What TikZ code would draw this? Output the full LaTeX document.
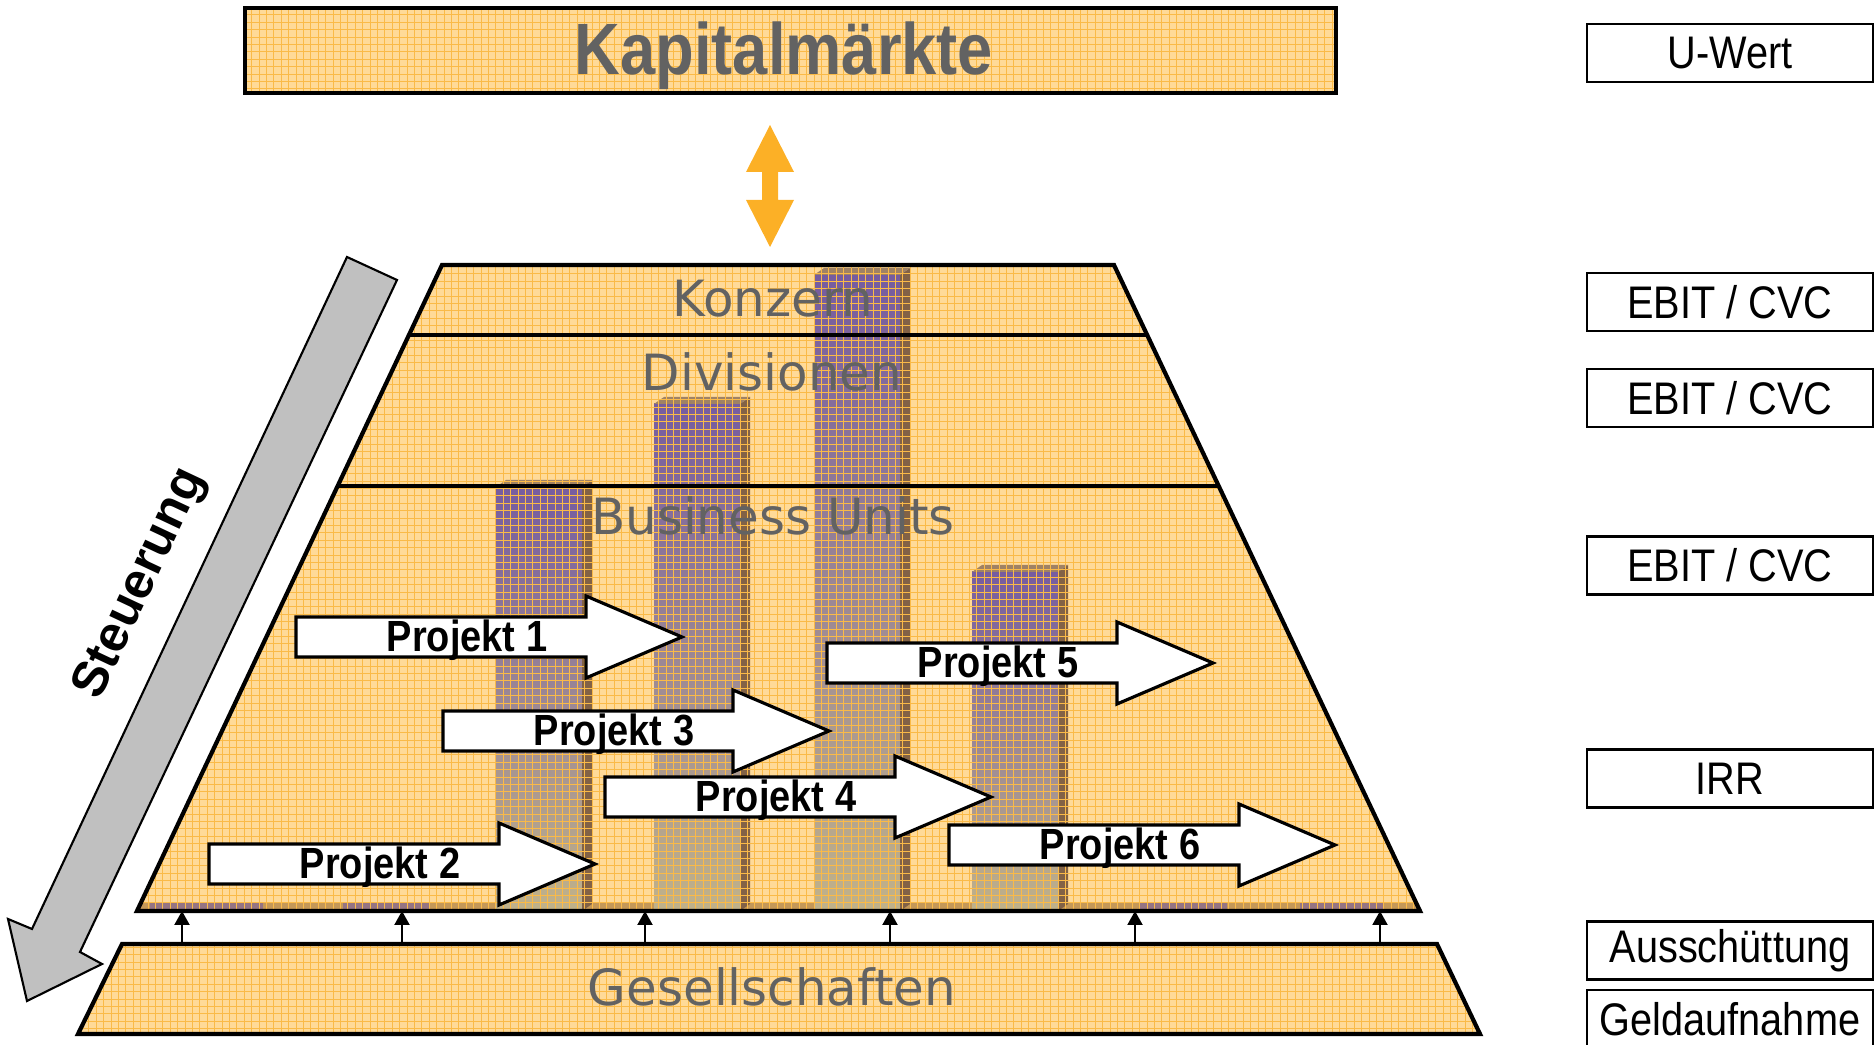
\documentclass[tikz,border=0pt]{standalone}
\usepackage{fontspec}
\usepackage{graphicx}
\setmainfont{Liberation Sans}
\newfontfamily\levelfont{DejaVu Sans}
\usetikzlibrary{calc,arrows.meta}

\definecolor{pyrfill}{RGB}{255,218,152}
\definecolor{gridorange}{RGB}{250,186,72}
\definecolor{labelgray}{RGB}{98,98,98}
\definecolor{barpurple}{RGB}{118,92,160}
\definecolor{bartan}{RGB}{192,178,138}
\definecolor{barside}{RGB}{130,98,70}
\definecolor{bartop}{RGB}{160,130,100}
\definecolor{updown}{RGB}{252,176,38}
\definecolor{steergray}{RGB}{192,192,192}
\definecolor{floorbrown}{RGB}{196,152,88}

\newcommand{\vstretch}[1]{\scalebox{1}[1.15]{#1}}

\newcommand{\orangegrid}[4]{%
  \foreach \i in {#1,...,#2} \draw[gridline] (7.4*\i,7.4*#3) -- (7.4*\i,7.4*#4);
  \foreach \j in {#3,...,#4} \draw[gridline] (7.4*#1,7.4*\j) -- (7.4*#2,7.4*\j);}

\newcommand{\drawcolumn}[2]{%
  \shade[top color=barpurple,bottom color=bartan] (#1,#2) rectangle ({#1+86},911);
  \fill[barside] ({#1+86},#2) -- ({#1+96},{#2-7}) -- ({#1+96},904) -- ({#1+86},911) -- cycle;
  \fill[bartop] (#1,#2) -- ({#1+10},{#2-7}) -- ({#1+96},{#2-7}) -- ({#1+86},#2) -- cycle;}

\newcommand{\projekt}[4]{%
  \draw[projshape] (#2,{#3-20}) -- ({#2+290},{#3-20}) -- ({#2+290},{#3-41}) -- ({#2+386},#3)
    -- ({#2+290},{#3+41}) -- ({#2+290},{#3+20}) -- (#2,{#3+20}) -- cycle;
  \node[projtext] (#1) at ({#2+171},{#3+3}) {\vstretch{Projekt #4}};}

\begin{document}
\begin{tikzpicture}
[x=0.1mm,y=-0.1mm,
 gridline/.style={gridorange,line width=0.22pt},
 leveltext/.style={text=labelgray,font=\levelfont\fontsize{14.2}{16}\selectfont},
 valuebox/.style={draw,line width=0.8pt,fill=white,minimum width=28.6mm,minimum height=5.8mm,inner sep=0pt,font=\fontsize{11.3}{13}\selectfont},
 projtext/.style={font=\bfseries\fontsize{10.8}{13}\selectfont},
 projshape/.style={draw,fill=white,line width=0.9pt,line join=miter},
 uplink/.style={-{Triangle[length=1.4mm,width=1.5mm]},line width=0.6pt}];
\useasboundingbox (0,0) rectangle (1874,1045);

% Kapitalmaerkte
\fill[pyrfill] (245,8) rectangle (1336,93);
\begin{scope}
\clip (245,8) rectangle (1336,93);
\orangegrid{33}{181}{1}{13}
\end{scope}
\draw[line width=1.3pt] (245,8) rectangle (1336,93);
\node[text=labelgray,font=\bfseries\fontsize{18}{20}\selectfont] (markt) at (784,56) {\vstretch{Kapitalmärkte}};

\fill[updown] (770,125) -- (794,172) -- (778,172) -- (778,200) -- (794,200) -- (770,247)
  -- (746,200) -- (762,200) -- (762,172) -- (746,172) -- cycle;

% pyramid
\coordinate (tl) at (442,265);
\coordinate (tr) at (1114,265);
\coordinate (br) at (1420,911);
\coordinate (bl) at (137,911);
\fill[pyrfill] (tl) -- (tr) -- (br) -- (bl) -- cycle;
\fill[floorbrown] (141,903) -- (1416,903) -- (br) -- (bl) -- cycle;
\foreach \a/\b in {150/263,343/430,1140/1227,1300/1383}
  \fill[barpurple!60!floorbrown] (\a,903) rectangle (\b,909);
\drawcolumn{496}{487}
\drawcolumn{654}{404}
\drawcolumn{814}{275}
\drawcolumn{972}{572}
\begin{scope}
\clip (tl) -- (tr) -- (br) -- (bl) -- cycle;
\orangegrid{18}{193}{35}{124}
\end{scope}
\draw[line width=1.2pt] ($(tl)!0.108!(bl)$) -- ($(tr)!0.108!(br)$);
\draw[line width=1.2pt] ($(tl)!0.342!(bl)$) -- ($(tr)!0.342!(br)$);
\draw[line width=1.2pt] (tl) -- (tr) -- (br) -- (bl) -- cycle;

\node[leveltext] (konzern) at (773,299) {Konzern};
\node[leveltext] (divisionen) at (772,372) {Divisionen};
\node[leveltext] (units) at (773,516) {Business Units};

\projekt{p1}{296}{637}{1}
\projekt{p3}{443}{731}{3}
\projekt{p4}{605}{797}{4}
\projekt{p2}{209}{864}{2}
\projekt{p5}{827}{663}{5}
\projekt{p6}{949}{845}{6}

% Gesellschaften
\fill[pyrfill] (122,944) -- (1437,944) -- (1480,1034) -- (78,1034) -- cycle;
\begin{scope}
\clip (122,944) -- (1437,944) -- (1480,1034) -- (78,1034) -- cycle;
\orangegrid{10}{201}{127}{140}
\end{scope}
\draw[line width=1.2pt] (122,944) -- (1437,944) -- (1480,1034) -- (78,1034) -- cycle;
\node[leveltext] (gesellschaften) at (772,987) {Gesellschaften};

\foreach \x [count=\k] in {182,402,645,890,1135,1380} {
  \coordinate (gs\k) at (\x,944);
  \coordinate (pb\k) at (\x,911);
  \draw[uplink] (gs\k) -- (pb\k);
}

% Steuerung
\draw[fill=steergray,line width=0.6pt,line join=miter] (347,257) -- (397,280) -- (80,952) -- (102,964)
  -- (27,1001) -- (8,919) -- (32,929) -- cycle;
\node[font=\bfseries\fontsize{14.3}{16}\selectfont,rotate=64.8] (steuerung) at (141,584) {Steuerung};

\node[valuebox] (uwert) at (1730,53) {\vstretch{U-Wert}};
\node[valuebox] (ebitk) at (1730,302) {\vstretch{EBIT / CVC}};
\node[valuebox] (ebitd) at (1730,398) {\vstretch{EBIT / CVC}};
\node[valuebox] (ebitb) at (1730,565.5) {\vstretch{EBIT / CVC}};
\node[valuebox] (irr) at (1730,778.5) {\vstretch{IRR}};
\node[valuebox] (aus) at (1730,950.5) {\vstretch{Ausschüttung}};
\node[valuebox] (geld) at (1730,1019) {\vstretch{Geldaufnahme}};

\end{tikzpicture}
\end{document}
